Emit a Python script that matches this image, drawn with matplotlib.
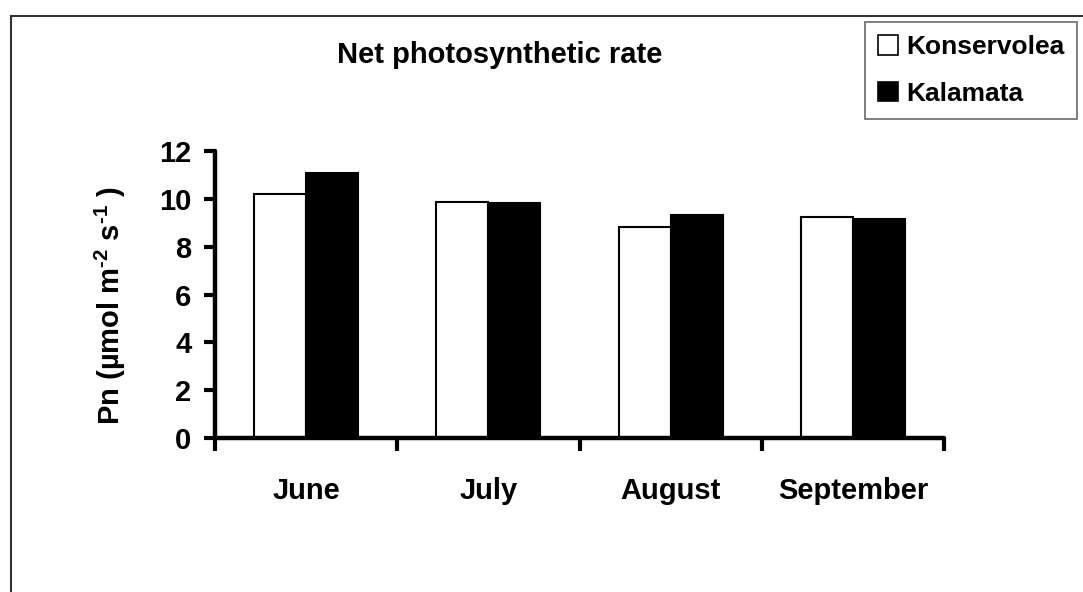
import numpy as np
import matplotlib.pyplot as plt
from matplotlib.patches import Rectangle, Patch

plt.rcParams['font.family'] = ['Liberation Sans', 'DejaVu Sans']
plt.rcParams['font.weight'] = 'bold'
plt.rcParams['mathtext.fontset'] = 'custom'
plt.rcParams['mathtext.rm'] = 'Liberation Sans:bold'
plt.rcParams['mathtext.it'] = 'Liberation Sans:bold'
plt.rcParams['mathtext.bf'] = 'Liberation Sans:bold'
plt.rcParams['mathtext.default'] = 'regular'

# データ
months = ["June", "July", "August", "September"]
konservolea = [10.2, 9.87, 8.84, 9.22]
kalamata = [11.1, 9.83, 9.33, 9.16]

fig = plt.figure(figsize=(10.83, 5.92), dpi=100)
ax = fig.add_axes([215/1083, 1-438/592, (944-215)/1083, (438-151)/592])

x = np.arange(len(months))
w = 0.285
ax.bar(x - w/2, konservolea, w, color="white", edgecolor="black", linewidth=1.5, label="Konservolea")
ax.bar(x + w/2, kalamata, w, color="black", edgecolor="black", linewidth=1.5, label="Kalamata")

ax.set_xlim(-0.5, 3.5)
ax.set_ylim(0, 12)
ax.set_yticks(np.arange(0, 13, 2))
ax.tick_params(axis="y", direction="out", length=8, width=3, labelsize=21, pad=9)

# 区切りの目盛り (ラベルなし) とカテゴリラベル
ax.set_xticks(np.arange(-0.5, 4, 1))
ax.set_xticklabels([])
ax.set_xticks(x, minor=True)
ax.set_xticklabels(months, minor=True, fontsize=21, fontweight="bold")
ax.tick_params(axis="x", which="major", direction="out", length=9, width=3)
ax.tick_params(axis="x", which="minor", length=0, pad=28)

for s in ["top", "right"]:
    ax.spines[s].set_visible(False)
for s in ["left", "bottom"]:
    ax.spines[s].set_linewidth(3.2)
    ax.spines[s].set_capstyle("round")

ax.set_ylabel(r"Pn (µmol m$^{\text{-2}}$ s$^{\text{-1}}$ )", fontsize=21, fontweight="bold")
ax.yaxis.set_label_coords(-0.12, 0.46)

fig.text(500/1083, 1-55/592, "Net photosynthetic rate", ha="center", va="center",
         fontsize=21, fontweight="bold")

# 外枠
fig.patches.append(Rectangle((11/1083, -0.1), 2, 1 - 15.7/592 + 0.1, transform=fig.transFigure,
                             fill=False, edgecolor="#333333", linewidth=1.5))

handles = [Patch(facecolor="white", edgecolor="black", linewidth=1.2),
           Patch(facecolor="black", edgecolor="black", linewidth=1.2)]
leg = fig.legend(handles, ["Konservolea", "Kalamata"], loc="upper left",
                 bbox_to_anchor=(865/1083, 1-22/592), fontsize=19, frameon=True,
                 fancybox=False, edgecolor="#444444", handlelength=0.75, handleheight=0.75,
                 handletextpad=0.3, labelspacing=0.85, borderpad=0.5, borderaxespad=0)
leg.get_frame().set_linewidth(1.2)
for t in leg.get_texts():
    t.set_fontweight("bold")

fig.savefig("out.png", dpi=100)
